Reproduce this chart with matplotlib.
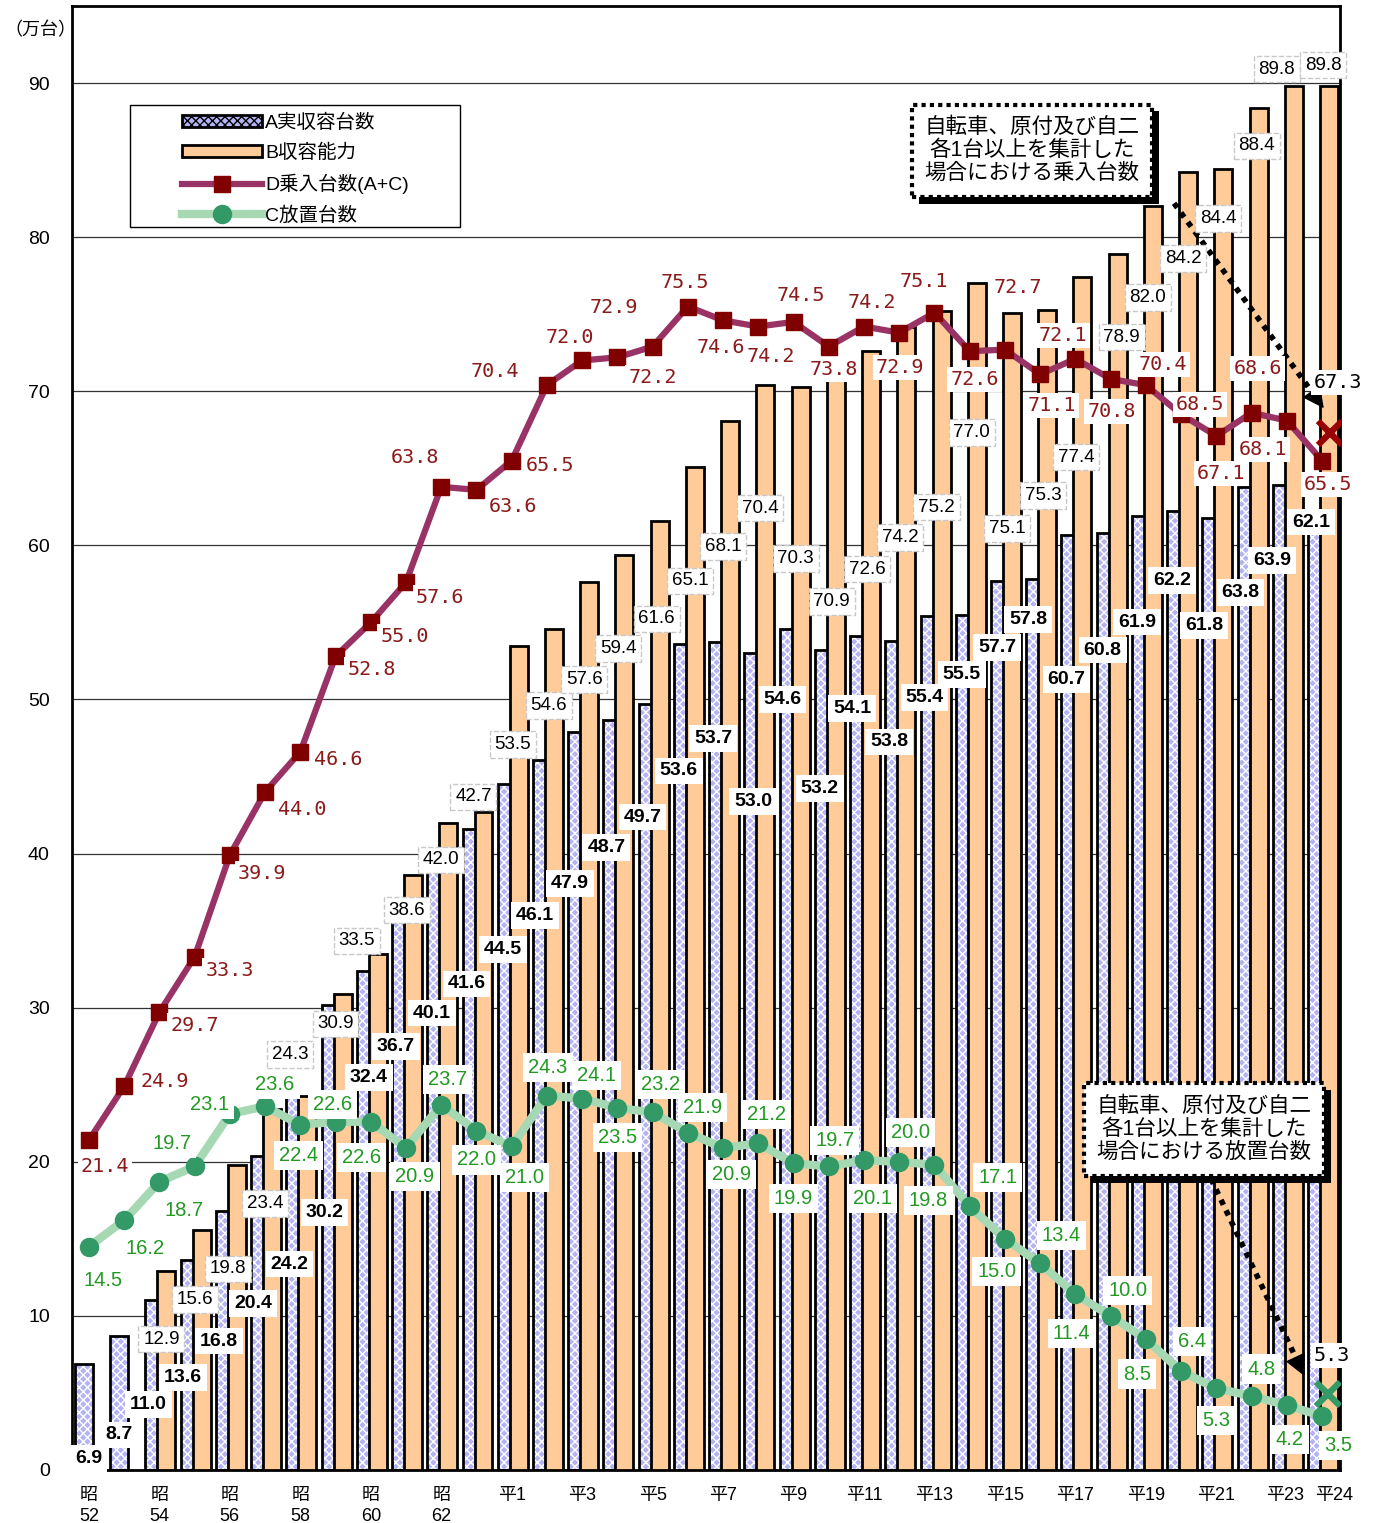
import numpy as np
import matplotlib.pyplot as plt
import matplotlib.patheffects as pe
from matplotlib.patches import Patch, Rectangle
from matplotlib.lines import Line2D
from matplotlib.transforms import ScaledTranslation

# === Data (万台) ===
TICK_LABELS = ["昭\n52", "", "昭\n54", "", "昭\n56", "", "昭\n58", "", "昭\n60", "", "昭\n62", "",
               "平1", "", "平3", "", "平5", "", "平7", "", "平9", "", "平11", "", "平13", "",
               "平15", "", "平17", "", "平19", "", "平21", "", "平23", "平24"]

A_actual = [6.9, 8.7, 11.0, 13.6, 16.8, 20.4, 24.2, 30.2, 32.4, 36.7, 40.1, 41.6,
            44.5, 46.1, 47.9, 48.7, 49.7, 53.6, 53.7, 53.0, 54.6, 53.2, 54.1, 53.8,
            55.4, 55.5, 57.7, 57.8, 60.7, 60.8, 61.9, 62.2, 61.8, 63.8, 63.9, 62.1]
B_capacity = [np.nan, np.nan, 12.9, 15.6, 19.8, 23.4, 24.3, 30.9, 33.5, 38.6, 42.0, 42.7,
              53.5, 54.6, 57.6, 59.4, 61.6, 65.1, 68.1, 70.4, 70.3, 70.9, 72.6, 74.2,
              75.2, 77.0, 75.1, 75.3, 77.4, 78.9, 82.0, 84.2, 84.4, 88.4, 89.8, 89.8]
D_inflow = [21.4, 24.9, 29.7, 33.3, 39.9, 44.0, 46.6, 52.8, 55.0, 57.6, 63.8, 63.6,
            65.5, 70.4, 72.0, 72.2, 72.9, 75.5, 74.6, 74.2, 74.5, 72.9, 74.2, 73.8,
            75.1, 72.6, 72.7, 71.1, 72.1, 70.8, 70.4, 68.5, 67.1, 68.6, 68.1, 65.5]
# labels as printed on the original chart
D_labels = ["21.4", "24.9", "29.7", "33.3", "39.9", "44.0", "46.6", "52.8", "55.0", "57.6",
            "63.8", "63.6", "65.5", "70.4", "72.0", "72.9", "72.2", "75.5", "74.6", "74.2",
            "74.5", "73.8", "74.2", "72.9", "75.1", "72.6", "72.7", "71.1", "72.1", "70.8",
            "70.4", "68.5", "67.1", "68.6", "68.1", "65.5"]
C_abandoned = [14.5, 16.2, 18.7, 19.7, 23.1, 23.6, 22.4, 22.6, 22.6, 20.9, 23.7, 22.0,
               21.0, 24.3, 24.1, 23.5, 23.2, 21.9, 20.9, 21.2, 19.9, 19.7, 20.1, 20.0,
               19.8, 17.1, 15.0, 13.4, 11.4, 10.0, 8.5, 6.4, 5.3, 4.8, 4.2, 3.5]
D_extra = 67.3
C_extra = 5.3

# === Label offsets (pixels: dx right, dd down) ===
A_OFF = [(0, 95), (-5, 99), (-11, 104), (-12, 117), (-11, 130), (-12, 148), (-11, 167), (-11, 208),
         (-2, 107), (-10, 142), (-9, 161), (-10, 155), (-9, 165), (-12, 156), (-12, 152), (-11, 128),
         (-10, 113), (-9, 127), (-10, 96), (-5, 148), (-11, 71), (-9, 138), (-12, 72), (-10, 101),
         (-10, 81), (-8, 60), (-8, 67), (-12, 40), (-9, 145), (-8, 117), (-9, 106), (-9, 69),
         (-12, 108), (-11, 106), (-15, 75), (-11, 9)]
B_OFF = [None, None, (2, 68), (0, 70), (-2, 104), (0, 94), (-10, -41), (0, 30), (-14, -13), (1, 35),
         (0, 37), (-3, -15), (1, 99), (2, 77), (2, 97), (1, 94), (4, 98), (2, 114), (0, 126),
         (2, 123), (2, 172), (3, 224), (3, 218), (1, 211), (2, 196), (2, 149), (2, 216), (3, 186),
         (1, 180), (11, 83), (2, 91), (2, 86), (2, 49), (5, 38), (-10, -17), (1, -21)]
D_OFF = [(16, 26), (41, -5), (35, 13), (35, 14), (32, 18), (37, 18), (38, 8), (36, 13), (34, 14),
         (34, 15), (-26, -29), (37, 17), (38, 5), (-52, -14), (-12, -23), (-4, -50), (0, 31),
         (-3, -24), (-2, 27), (13, 30), (7, -26), (5, 23), (8, -24), (1, 35), (-11, -31), (5, 28),
         (13, -62), (12, 31), (-13, -23), (1, 33), (17, -21), (19, -10), (5, 38), (6, -44),
         (-24, 29), (6, 24)]
C_OFF = [(14, 34), (21, 28), (25, 29), (-23, -23), (-20, -10), (10, -22), (-2, 31), (-3, -17),
         (-9, 36), (9, 29), (6, -25), (0, 29), (13, 31), (1, -28), (14, -23), (0, 30), (8, -28),
         (15, -25), (8, 27), (8, -29), (0, 35), (6, -26), (8, 38), (11, -29), (-6, 36), (28, -29),
         (-8, 33), (21, -28), (-4, 39), (17, -25), (-9, 35), (11, -30), (0, 32), (10, -27),
         (3, 34), (16, 29)]

# === Style ===
JP = ["Liberation Sans", "Noto Sans CJK JP", "DejaVu Sans"]
NARROW = ["Liberation Sans Narrow", "Liberation Sans", "DejaVu Sans"]
MONO = ["DejaVu Sans Mono"]
BLUE = "#b4b4f5"
ORANGE = "#ffcc99"
D_LINE = "#993366"
D_MARK = "#800000"
C_LINE = "#a6d8b4"
C_MARK = "#339966"
RED_TXT = "#8b1a1a"
GREEN_TXT = "#229922"

plt.rcParams["font.family"] = JP
plt.rcParams["hatch.linewidth"] = 1.0


def label(ax, x, y, text, off, **kw):
    ax.annotate(text, xy=(x, y), xytext=(off[0], -off[1]), textcoords="offset pixels",
                ha="center", va="center", zorder=10, **kw)


def main():
    n = len(A_actual)
    x = np.arange(n)
    fig = plt.figure(figsize=(13.75, 15.23), dpi=100)
    ax = fig.add_axes([72 / 1375, 53 / 1523, 1268 / 1375, 1464 / 1523])

    # bars
    ax.bar(x - 0.14, A_actual, width=0.51, color=BLUE, hatch="xxxx", edgecolor="white",
           linewidth=0, zorder=2)
    ax.bar(x - 0.14, A_actual, width=0.51, fill=False, edgecolor="black", linewidth=2, zorder=2)
    ax.bar(x + 0.2, B_capacity, width=0.51, color=ORANGE, edgecolor="black", linewidth=2, zorder=3)

    # lines
    ax.plot(x, D_inflow, color=D_LINE, lw=4.5, marker="s", ms=11.5, mfc=D_MARK, mec=D_MARK,
            zorder=5, solid_capstyle="round")
    ax.plot(x, C_abandoned, color=C_LINE, lw=6, marker="o", ms=13, mfc=C_MARK, mec=C_MARK,
            zorder=5, solid_capstyle="round")
    ax.plot([n - 1 + 0.22], [D_extra], marker="x", ms=17, mew=4.5, color="#990000", zorder=6)
    ax.plot([n - 1 + 0.18], [C_extra - 0.4], marker="x", ms=17, mew=4.5, color=C_MARK, zorder=6)

    # data labels
    for i in range(n):
        label(ax, x[i], A_actual[i], f"{A_actual[i]:.1f}", A_OFF[i], fontsize=14,
              fontweight="bold", family=NARROW, color="black",
              bbox=dict(boxstyle="square,pad=0.25", fc="white", ec="none"))
        if B_OFF[i] is not None:
            label(ax, x[i], B_capacity[i], f"{B_capacity[i]:.1f}", B_OFF[i], fontsize=13.5,
                  color="black",
                  bbox=dict(boxstyle="square,pad=0.25", fc="white", ec="#c8c8c8", ls="--", lw=1))
        label(ax, x[i], D_inflow[i], D_labels[i], D_OFF[i], fontsize=14.5, family=MONO,
              color=RED_TXT, bbox=dict(boxstyle="square,pad=0.15", fc="white", ec="none"))
        label(ax, x[i], C_abandoned[i], f"{C_abandoned[i]:.1f}", C_OFF[i], fontsize=14.5,
              family=NARROW, color=GREEN_TXT,
              bbox=dict(boxstyle="square,pad=0.25", fc="white", ec="none"))
    label(ax, n - 1, D_inflow[-1], f"{D_extra:.1f}", (16, -78), fontsize=14.5, family=MONO,
          color="black", bbox=dict(boxstyle="square,pad=0.15", fc="white", ec="none"))
    label(ax, n - 1, C_abandoned[-1], f"{C_extra:.1f}", (10, -61), fontsize=14.5, family=MONO,
          color="black", bbox=dict(boxstyle="square,pad=0.15", fc="white", ec="none"))

    # note boxes with shadow + dotted arrows
    notes = [
        ("自転車、原付及び自二\n各1台以上を集計した\n場合における乗入台数", (26.77, 85.6),
         (30.8, 82.2), (35.05, 68.9)),
        ("自転車、原付及び自二\n各1台以上を集計した\n場合における放置台数", (31.65, 22.1),
         (31.85, 18.9), (34.5, 6.1)),
    ]
    for text, pos, a0, a1 in notes:
        t = ax.text(pos[0], pos[1], text, ha="center", va="center", fontsize=15.5,
                    linespacing=1.12, zorder=12,
                    bbox=dict(boxstyle="square,pad=0.6", fc="white", ec="black",
                              ls=(0, (1, 1)), lw=3))
        t.get_bbox_patch().set_path_effects([
            pe.SimplePatchShadow(offset=(5, -5), shadow_rgbFace="black", alpha=1.0),
            pe.Normal()])
        # dotted shaft, then a solid head
        frac = 0.92
        mid = (a0[0] + (a1[0] - a0[0]) * frac, a0[1] + (a1[1] - a0[1]) * frac)
        ax.plot([a0[0], mid[0]], [a0[1], mid[1]], color="black", lw=4,
                linestyle=(0, (1, 1.1)), zorder=9)
        ax.annotate("", xy=a1, xytext=mid, zorder=9,
                    arrowprops=dict(arrowstyle="-|>", color="black", lw=1,
                                    mutation_scale=34, shrinkA=0, shrinkB=0))

    # axes
    ax.set_xlim(-0.48, n - 1 + 0.51)
    ax.set_ylim(0, 95)
    ax.set_yticks(np.arange(0, 91, 10))
    ax.set_xticks(x)
    ax.set_xticklabels(TICK_LABELS, fontsize=13, linespacing=1.3)
    ax.tick_params(axis="x", length=0, pad=12)
    ax.tick_params(axis="y", length=0, pad=16, labelsize=14)
    ticklabels = ax.get_xticklabels()
    ticklabels[-1].set_transform(ticklabels[-1].get_transform()
                                 + ScaledTranslation(0.12, 0, fig.dpi_scale_trans))
    ticklabels[-2].set_transform(ticklabels[-2].get_transform()
                                 + ScaledTranslation(-0.02, 0, fig.dpi_scale_trans))
    ax.grid(axis="y", color="#333333", lw=0.9, zorder=0)
    ax.set_axisbelow(True)
    for sp in ax.spines.values():
        sp.set_linewidth(2)
    ax.text(-1.38, 93.4, "（万台）", fontsize=13, ha="center", va="center", clip_on=False)

    # legend
    ax.add_patch(Rectangle((0.0457, 0.849), 0.26, 0.0834, transform=ax.transAxes,
                           facecolor="white", edgecolor="black", lw=1, zorder=19))
    handles = [
        Patch(facecolor=BLUE, hatch="xxxx", edgecolor="black", linewidth=2),
        Patch(facecolor=ORANGE, edgecolor="black", linewidth=2),
        Line2D([], [], color=D_LINE, lw=4.5, marker="s", ms=11.5, mfc=D_MARK, mec=D_MARK),
        Line2D([], [], color=C_LINE, lw=6, marker="o", ms=13, mfc=C_MARK, mec=C_MARK),
    ]
    labels = ["A実収容台数", "B収容能力", "D乗入台数(A+C)", "C放置台数"]
    leg = ax.legend(handles, labels, loc="upper left", bbox_to_anchor=(0.087, 0.9265),
                    fontsize=14, frameon=False, handlelength=4.1, handleheight=0.6,
                    handletextpad=0.15, labelspacing=0.62, borderpad=0, borderaxespad=0)
    leg.set_zorder(20)

    fig.savefig("out.png", dpi=100)


if __name__ == "__main__":
    main()
